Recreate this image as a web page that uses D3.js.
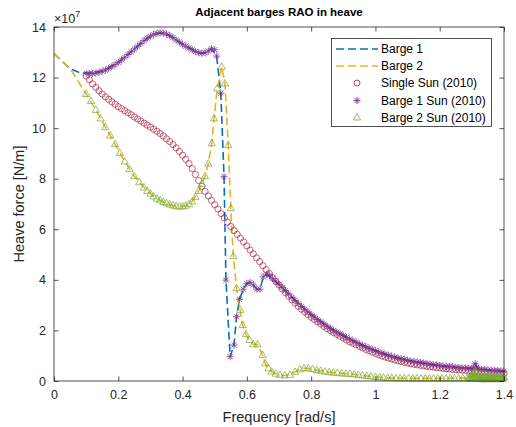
<!DOCTYPE html>
<html>
<head>
<meta charset="utf-8">
<script src="https://cdn.jsdelivr.net/npm/d3@7"></script>
<style>
  html, body { margin: 0; padding: 0; background: #fff; }
  svg { display: block; font-family: "Liberation Sans", Arial, Helvetica, sans-serif; }
</style>
</head>
<body>
<svg id="chart" width="516" height="427"></svg>
<script>
// ---- data (heave force in units of 1e7 N/m, frequency in rad/s) ----
const xTicks = [0, 0.2, 0.4, 0.6, 0.8, 1, 1.2, 1.4];
const xTickLabels = ["0", "0.2", "0.4", "0.6", "0.8", "1", "1.2", "1.4"];
const yTicks = [0, 2, 4, 6, 8, 10, 12, 14];
const yTickLabels = ["0", "2", "4", "6", "8", "10", "12", "14"];

const seriesNames = ["Barge 1", "Barge 2", "Single Sun (2010)", "Barge 1 Sun (2010)", "Barge 2 Sun (2010)"];

// computed RAO, barge 1
const barge1 = [
  [0, 12.95], [0.025, 12.65], [0.05, 12.35], [0.075, 12.22], [0.10, 12.17], [0.15, 12.25],
  [0.20, 12.60], [0.25, 13.13], [0.30, 13.64], [0.33, 13.77], [0.36, 13.66], [0.40, 13.32],
  [0.45, 12.98], [0.47, 12.98], [0.49, 13.14], [0.506, 12.85], [0.519, 11.38], [0.529, 8.08],
  [0.535, 3.99], [0.548, 0.96], [0.560, 1.42], [0.568, 2.54], [0.577, 3.23], [0.589, 3.63],
  [0.600, 3.85], [0.610, 3.90], [0.620, 3.80], [0.631, 3.63], [0.641, 3.63], [0.651, 4.12],
  [0.662, 4.23], [0.70, 3.82], [0.75, 3.19], [0.80, 2.63], [0.85, 2.16], [0.90, 1.79],
  [0.95, 1.47], [1.00, 1.20], [1.05, 0.98], [1.10, 0.82], [1.15, 0.71], [1.20, 0.61],
  [1.25, 0.54], [1.30, 0.49], [1.31, 0.68], [1.32, 0.47], [1.35, 0.44], [1.40, 0.39]
];

// computed RAO, barge 2
const barge2 = [
  [0, 12.95], [0.03, 12.60], [0.06, 12.17], [0.08, 11.75], [0.10, 11.35], [0.13, 10.72],
  [0.16, 10.04], [0.19, 9.37], [0.22, 8.68], [0.25, 8.10], [0.28, 7.65], [0.31, 7.29],
  [0.34, 7.08], [0.37, 6.94], [0.39, 6.90], [0.41, 6.93], [0.43, 7.10], [0.45, 7.52],
  [0.47, 8.10], [0.48, 8.60], [0.491, 9.40], [0.498, 10.39], [0.508, 11.57], [0.522, 12.43],
  [0.532, 11.77], [0.542, 9.33], [0.550, 6.83], [0.558, 4.94], [0.568, 3.67], [0.579, 2.81],
  [0.587, 2.21], [0.597, 1.85], [0.608, 1.62], [0.620, 1.45], [0.633, 1.45], [0.649, 1.03],
  [0.657, 0.70], [0.667, 0.50], [0.677, 0.37], [0.690, 0.29], [0.703, 0.24], [0.718, 0.22],
  [0.734, 0.24], [0.750, 0.36], [0.765, 0.46], [0.778, 0.50], [0.791, 0.50], [0.817, 0.43],
  [0.869, 0.33], [0.921, 0.28], [0.973, 0.20], [1.025, 0.13], [1.066, 0.11], [1.20, 0.10],
  [1.30, 0.12], [1.31, 0.40], [1.32, 0.15], [1.36, 0.16], [1.40, 0.14]
];

// Sun (2010), single barge
const singleSun = [
  [0.10, 12.06], [0.11, 11.91], [0.12, 11.75], [0.13, 11.61], [0.14, 11.48], [0.15, 11.35],
  [0.16, 11.24], [0.17, 11.14], [0.18, 11.04], [0.19, 10.95], [0.20, 10.85], [0.21, 10.77],
  [0.22, 10.69], [0.23, 10.61], [0.24, 10.53], [0.25, 10.44], [0.26, 10.36], [0.27, 10.28],
  [0.28, 10.20], [0.29, 10.12], [0.30, 10.04], [0.31, 9.96], [0.32, 9.88], [0.33, 9.79],
  [0.34, 9.69], [0.35, 9.58], [0.36, 9.47], [0.37, 9.35], [0.38, 9.22], [0.39, 9.08],
  [0.40, 8.93], [0.41, 8.77], [0.42, 8.60], [0.43, 8.40], [0.44, 8.17], [0.45, 7.93],
  [0.46, 7.70], [0.47, 7.50], [0.48, 7.32], [0.49, 7.14], [0.50, 6.97], [0.51, 6.80],
  [0.52, 6.62], [0.53, 6.45], [0.54, 6.28], [0.55, 6.11], [0.56, 5.95], [0.57, 5.80],
  [0.58, 5.65], [0.59, 5.50], [0.60, 5.34], [0.61, 5.18], [0.62, 5.03], [0.63, 4.87],
  [0.64, 4.72], [0.65, 4.56], [0.66, 4.40], [0.67, 4.25], [0.68, 4.09], [0.69, 3.94],
  [0.70, 3.79], [0.71, 3.64], [0.72, 3.49], [0.73, 3.35], [0.74, 3.21], [0.75, 3.08],
  [0.76, 2.95], [0.77, 2.84], [0.78, 2.73], [0.79, 2.63], [0.80, 2.52], [0.81, 2.43],
  [0.82, 2.34], [0.83, 2.25], [0.84, 2.16], [0.85, 2.07], [0.86, 1.99], [0.87, 1.91],
  [0.88, 1.84], [0.89, 1.77], [0.90, 1.70], [0.91, 1.62], [0.92, 1.55], [0.93, 1.49],
  [0.94, 1.43], [0.95, 1.37], [0.96, 1.31], [0.97, 1.25], [0.98, 1.20], [0.99, 1.14],
  [1.00, 1.09], [1.01, 1.04], [1.02, 0.99], [1.03, 0.95], [1.04, 0.91], [1.05, 0.87],
  [1.06, 0.83], [1.07, 0.80], [1.08, 0.77], [1.09, 0.74], [1.10, 0.71], [1.11, 0.68],
  [1.12, 0.66], [1.13, 0.64], [1.14, 0.62], [1.15, 0.60], [1.16, 0.58], [1.17, 0.56],
  [1.18, 0.55], [1.19, 0.53], [1.20, 0.52], [1.21, 0.50], [1.22, 0.49], [1.23, 0.48],
  [1.24, 0.46], [1.25, 0.45], [1.26, 0.44], [1.27, 0.43], [1.28, 0.42], [1.29, 0.41],
  [1.30, 0.39], [1.31, 0.38], [1.32, 0.37], [1.33, 0.36], [1.34, 0.35], [1.35, 0.34],
  [1.36, 0.33], [1.37, 0.32], [1.38, 0.31], [1.39, 0.30], [1.40, 0.29]
];

// Sun (2010), barge 1 of the adjacent pair
const barge1Sun = [
  [0.10, 12.17], [0.11, 12.15], [0.12, 12.16], [0.13, 12.18], [0.14, 12.21], [0.15, 12.25],
  [0.16, 12.30], [0.17, 12.36], [0.18, 12.43], [0.19, 12.51], [0.20, 12.60], [0.21, 12.70],
  [0.22, 12.80], [0.23, 12.91], [0.24, 13.02], [0.25, 13.13], [0.26, 13.24], [0.27, 13.35],
  [0.28, 13.46], [0.29, 13.56], [0.30, 13.64], [0.31, 13.71], [0.32, 13.75], [0.33, 13.77],
  [0.34, 13.76], [0.35, 13.72], [0.36, 13.66], [0.37, 13.58], [0.38, 13.49], [0.39, 13.40],
  [0.40, 13.32], [0.41, 13.24], [0.42, 13.17], [0.43, 13.10], [0.44, 13.03], [0.45, 12.98],
  [0.46, 12.96], [0.47, 12.98], [0.48, 13.05], [0.49, 13.14], [0.50, 13.10], [0.506, 12.85],
  [0.519, 11.38], [0.529, 8.08], [0.535, 3.99], [0.548, 0.96], [0.560, 1.42], [0.568, 2.54],
  [0.577, 3.23], [0.589, 3.63], [0.600, 3.85], [0.610, 3.90], [0.620, 3.80], [0.631, 3.63],
  [0.641, 3.63], [0.651, 4.12], [0.662, 4.23], [0.67, 4.18], [0.68, 4.06], [0.69, 3.94],
  [0.70, 3.82], [0.71, 3.70], [0.72, 3.57], [0.73, 3.44], [0.74, 3.31], [0.75, 3.19],
  [0.76, 3.07], [0.77, 2.95], [0.78, 2.84], [0.79, 2.73], [0.80, 2.63], [0.81, 2.53],
  [0.82, 2.43], [0.83, 2.34], [0.84, 2.25], [0.85, 2.16], [0.86, 2.08], [0.87, 2.00],
  [0.88, 1.93], [0.89, 1.86], [0.90, 1.79], [0.91, 1.72], [0.92, 1.66], [0.93, 1.59],
  [0.94, 1.53], [0.95, 1.47], [0.96, 1.41], [0.97, 1.36], [0.98, 1.30], [0.99, 1.25],
  [1.00, 1.20], [1.01, 1.15], [1.02, 1.10], [1.03, 1.06], [1.04, 1.02], [1.05, 0.98],
  [1.06, 0.94], [1.07, 0.91], [1.08, 0.88], [1.09, 0.85], [1.10, 0.82], [1.11, 0.79],
  [1.12, 0.77], [1.13, 0.75], [1.14, 0.73], [1.15, 0.71], [1.16, 0.69], [1.17, 0.67],
  [1.18, 0.65], [1.19, 0.63], [1.20, 0.61], [1.21, 0.60], [1.22, 0.58], [1.23, 0.57],
  [1.24, 0.56], [1.25, 0.54], [1.26, 0.53], [1.27, 0.52], [1.28, 0.51], [1.29, 0.50],
  [1.30, 0.49], [1.305, 0.52], [1.31, 0.68], [1.315, 0.55], [1.32, 0.47], [1.33, 0.46],
  [1.34, 0.45], [1.35, 0.44], [1.36, 0.43], [1.37, 0.42], [1.38, 0.41], [1.39, 0.40],
  [1.40, 0.39]
];

// Sun (2010), barge 2 of the adjacent pair
const barge2Sun = [
  [0.10, 11.35], [0.115, 11.07], [0.13, 10.72], [0.145, 10.38], [0.16, 10.04], [0.175, 9.71],
  [0.19, 9.37], [0.205, 9.02], [0.22, 8.68], [0.235, 8.38], [0.25, 8.10], [0.265, 7.86],
  [0.28, 7.65], [0.29, 7.52], [0.30, 7.41], [0.31, 7.30], [0.32, 7.21], [0.33, 7.14],
  [0.34, 7.08], [0.35, 7.03], [0.36, 6.98], [0.37, 6.94], [0.38, 6.91], [0.39, 6.90],
  [0.40, 6.90], [0.41, 6.93], [0.42, 6.99], [0.43, 7.10], [0.44, 7.27], [0.45, 7.52],
  [0.46, 7.80], [0.47, 8.10], [0.48, 8.60], [0.491, 9.40], [0.498, 10.39], [0.508, 11.57],
  [0.522, 12.43], [0.532, 11.77], [0.542, 9.33], [0.550, 6.83], [0.558, 4.94], [0.568, 3.67],
  [0.579, 2.81], [0.587, 2.21], [0.597, 1.85], [0.608, 1.62], [0.620, 1.45], [0.633, 1.45],
  [0.649, 1.03], [0.657, 0.70], [0.667, 0.50], [0.677, 0.37], [0.690, 0.29], [0.703, 0.24],
  [0.718, 0.22], [0.734, 0.24], [0.750, 0.36], [0.765, 0.46], [0.778, 0.50], [0.791, 0.50],
  [0.804, 0.47], [0.817, 0.43], [0.830, 0.40], [0.843, 0.37], [0.856, 0.35], [0.869, 0.33],
  [0.882, 0.32], [0.895, 0.30], [0.908, 0.29], [0.921, 0.28], [0.934, 0.26], [0.947, 0.24],
  [0.960, 0.22], [0.973, 0.20], [0.986, 0.18], [1.000, 0.16], [1.013, 0.15], [1.025, 0.13],
  [1.038, 0.12], [1.051, 0.12], [1.064, 0.11], [1.077, 0.11], [1.090, 0.11], [1.103, 0.11],
  [1.116, 0.10], [1.129, 0.10], [1.142, 0.10], [1.155, 0.10], [1.168, 0.10], [1.181, 0.10],
  [1.194, 0.10], [1.207, 0.10], [1.220, 0.10], [1.233, 0.10], [1.246, 0.10], [1.259, 0.10],
  [1.272, 0.11], [1.285, 0.11], [1.291, 0.12], [1.294, 0.14], [1.296, 0.08], [1.298, 0.18],
  [1.300, 0.10], [1.302, 0.22], [1.304, 0.12], [1.306, 0.30], [1.308, 0.16], [1.310, 0.40],
  [1.312, 0.18], [1.314, 0.30], [1.316, 0.10], [1.318, 0.22], [1.320, 0.08], [1.322, 0.18],
  [1.324, 0.10], [1.326, 0.17], [1.328, 0.07], [1.330, 0.16], [1.332, 0.09], [1.334, 0.17],
  [1.336, 0.07], [1.338, 0.18], [1.340, 0.09], [1.342, 0.17], [1.344, 0.07], [1.346, 0.16],
  [1.348, 0.08], [1.350, 0.17], [1.352, 0.09], [1.354, 0.18], [1.356, 0.07], [1.358, 0.17],
  [1.360, 0.09], [1.362, 0.16], [1.364, 0.08], [1.366, 0.15], [1.368, 0.07], [1.370, 0.16],
  [1.372, 0.09], [1.374, 0.17], [1.376, 0.08], [1.378, 0.16], [1.380, 0.07], [1.382, 0.15],
  [1.384, 0.09], [1.386, 0.16], [1.388, 0.08], [1.390, 0.15], [1.392, 0.07], [1.394, 0.14],
  [1.396, 0.08], [1.398, 0.15], [1.400, 0.14]
];

// ---- colours ----
const cBlue = "#0072BD", cYellow = "#EDB120", cRed = "#A2142F", cPurple = "#7E2F8E", cGreen = "#77AC30";
const axisColor = "#262626";

// ---- layout ----
const plot = { left: 54, right: 504, top: 27, bottom: 381 };
const x = d3.scaleLinear().domain([0, 1.4]).range([plot.left, plot.right]);
const y = d3.scaleLinear().domain([0, 14]).range([plot.bottom, plot.top]);

const svg = d3.select("#chart");

svg.append("defs").append("clipPath").attr("id", "plotClip")
  .append("rect")
  .attr("x", plot.left).attr("y", plot.top)
  .attr("width", plot.right - plot.left).attr("height", plot.bottom - plot.top);

// marker shapes
const starPath = (r) => {
  const k = r * 0.72;
  return `M0,${-r}L0,${r}M${-r},0L${r},0M${-k},${-k}L${k},${k}M${-k},${k}L${k},${-k}`;
};
const triPath = (r) => `M0,${-r}L${r * 0.9},${r * 0.62}L${-r * 0.9},${r * 0.62}Z`;

// ---- data layer ----
const dataLayer = svg.append("g").attr("clip-path", "url(#plotClip)");
const line = d3.line().x(d => x(d[0])).y(d => y(d[1]));

dataLayer.append("path").datum(barge1).attr("d", line)
  .attr("fill", "none").attr("stroke", cBlue).attr("stroke-width", 1.6)
  .attr("stroke-dasharray", "8,4");
dataLayer.append("path").datum(barge2).attr("d", line)
  .attr("fill", "none").attr("stroke", cYellow).attr("stroke-width", 1.6)
  .attr("stroke-dasharray", "8,4");

const markerLayer = svg.append("g");
markerLayer.append("g").selectAll("circle").data(singleSun).join("circle")
  .attr("cx", d => x(d[0])).attr("cy", d => y(d[1])).attr("r", 3.1)
  .attr("fill", "none").attr("stroke", cRed).attr("stroke-width", 0.8).attr("stroke-opacity", 0.8);
markerLayer.append("g").selectAll("path").data(barge1Sun).join("path")
  .attr("transform", d => `translate(${x(d[0])},${y(d[1])})`).attr("d", starPath(3.6))
  .attr("fill", "none").attr("stroke", cPurple).attr("stroke-width", 0.9).attr("stroke-opacity", 0.85);
markerLayer.append("g").selectAll("path").data(barge2Sun).join("path")
  .attr("transform", d => `translate(${x(d[0])},${y(d[1])})`).attr("d", triPath(4))
  .attr("fill", "none").attr("stroke", cGreen).attr("stroke-width", 0.8).attr("stroke-opacity", 0.9);

// ---- axes ----
const axes = svg.append("g");
const fontTick = "12.5px";

const bottomAxis = axes.append("g").attr("transform", `translate(0,${plot.bottom})`)
  .call(d3.axisBottom(x).tickValues(xTicks).tickFormat((d, i) => xTickLabels[i])
    .tickSizeInner(-4.5).tickSizeOuter(0).tickPadding(9));
const leftAxis = axes.append("g").attr("transform", `translate(${plot.left},0)`)
  .call(d3.axisLeft(y).tickValues(yTicks).tickFormat((d, i) => yTickLabels[i])
    .tickSizeInner(-4.5).tickSizeOuter(0).tickPadding(8));
const topAxis = axes.append("g").attr("transform", `translate(0,${plot.top})`)
  .call(d3.axisTop(x).tickValues(xTicks).tickFormat("").tickSizeInner(-4.5).tickSizeOuter(0));
const rightAxis = axes.append("g").attr("transform", `translate(${plot.right},0)`)
  .call(d3.axisRight(y).tickValues(yTicks).tickFormat("").tickSizeInner(-4.5).tickSizeOuter(0));

[bottomAxis, leftAxis, topAxis, rightAxis].forEach(a => {
  a.select(".domain").remove();
  a.selectAll(".tick line").attr("stroke", axisColor).attr("stroke-width", 0.8);
  a.selectAll(".tick text").attr("fill", axisColor).style("font-size", fontTick)
    .style("font-family", "'Liberation Sans', Arial, sans-serif");
});

axes.append("rect")
  .attr("x", plot.left).attr("y", plot.top)
  .attr("width", plot.right - plot.left).attr("height", plot.bottom - plot.top)
  .attr("fill", "none").attr("stroke", axisColor).attr("stroke-width", 0.8);

// exponent
const expo = axes.append("text").attr("x", plot.left).attr("y", 23)
  .attr("fill", axisColor).style("font-size", "12.5px");
expo.append("tspan").text("\u00d710");
expo.append("tspan").attr("dy", -6).style("font-size", "9px").text("7");

// title and axis labels
svg.append("text").attr("x", (plot.left + plot.right) / 2).attr("y", 16)
  .attr("text-anchor", "middle").attr("fill", "#000")
  .style("font-size", "11.5px").style("font-weight", "bold")
  .text("Adjacent barges RAO in heave");
svg.append("text").attr("x", (plot.left + plot.right) / 2).attr("y", 422)
  .attr("text-anchor", "middle").attr("fill", axisColor).style("font-size", "14.5px")
  .text("Frequency [rad/s]");
svg.append("text")
  .attr("transform", `translate(24,${(plot.top + plot.bottom) / 2}) rotate(-90)`)
  .attr("text-anchor", "middle").attr("fill", axisColor).style("font-size", "14.5px")
  .text("Heave force [N/m]");

// ---- legend ----
const lg = svg.append("g");
lg.append("rect").attr("x", 331.5).attr("y", 38.5).attr("width", 160).attr("height", 88)
  .attr("fill", "#fff").attr("stroke", axisColor).attr("stroke-width", 0.8);
const rowY = [49, 66, 83, 100.5, 117.5];
const sampleX0 = 336, sampleX1 = 378, markX = 357, textX = 381;
[cBlue, cYellow].forEach((c, i) => {
  lg.append("line").attr("x1", sampleX0).attr("x2", sampleX1)
    .attr("y1", rowY[i]).attr("y2", rowY[i])
    .attr("stroke", c).attr("stroke-width", 1.6).attr("stroke-dasharray", "8,4");
});
lg.append("circle").attr("cx", markX).attr("cy", rowY[2]).attr("r", 3)
  .attr("fill", "none").attr("stroke", cRed).attr("stroke-width", 0.8);
lg.append("path").attr("transform", `translate(${markX},${rowY[3]})`).attr("d", starPath(3.6))
  .attr("fill", "none").attr("stroke", cPurple).attr("stroke-width", 0.9);
lg.append("path").attr("transform", `translate(${markX},${rowY[4]})`).attr("d", triPath(4))
  .attr("fill", "none").attr("stroke", cGreen).attr("stroke-width", 0.8);
seriesNames.forEach((name, i) => {
  lg.append("text").attr("x", textX).attr("y", rowY[i]).attr("dy", "0.35em")
    .attr("fill", "#000").style("font-size", "12px").text(name);
});
</script>
</body>
</html>
